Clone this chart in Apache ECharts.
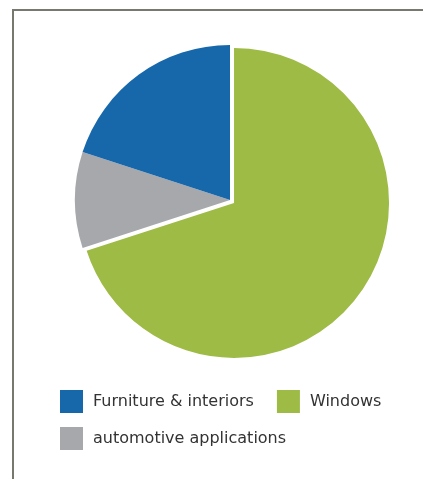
<!DOCTYPE html>
<html>
<head>
<meta charset="utf-8">
<style>
  html, body { margin: 0; padding: 0; background: #ffffff; }
  #chart { width: 423px; height: 479px; }
</style>
<script src="https://cdn.jsdelivr.net/npm/echarts@6/dist/echarts.min.js"></script>
</head>
<body>
<div id="chart"></div>
<script>
// Share of applications (percent)
const categories = ['Windows', 'automotive applications', 'Furniture & interiors'];
const values = [70, 10, 20];
const colors = ['#9dbb45', '#a7a8ac', '#1767ab'];
const legendRow1 = ['Furniture & interiors', 'Windows'];
const legendRow2 = ['automotive applications'];

const chart = echarts.init(document.getElementById('chart'), null, { renderer: 'canvas' });

const legendText = { color: '#333333', fontSize: 16, fontFamily: 'DejaVu Sans', padding: [0, 0, 0, 5] };

chart.setOption({
  animation: false,
  graphic: [
    { type: 'line', shape: { x1: 12, y1: 10, x2: 423, y2: 10 }, style: { stroke: '#77796f', lineWidth: 2 } },
    { type: 'line', shape: { x1: 13, y1: 10, x2: 13, y2: 479 }, style: { stroke: '#77796f', lineWidth: 2 } }
  ],
  legend: [
    {
      data: legendRow1, left: 60, top: 390, orient: 'horizontal', padding: 0,
      itemWidth: 23, itemHeight: 23, itemGap: 23, icon: 'rect',
      selectedMode: false, textStyle: legendText
    },
    {
      data: legendRow2, left: 60, top: 427, orient: 'horizontal', padding: 0,
      itemWidth: 23, itemHeight: 23, icon: 'rect',
      selectedMode: false, textStyle: legendText
    }
  ],
  series: [{
    type: 'pie',
    center: [230, 200],
    radius: 155,
    startAngle: 90,
    clockwise: true,
    selectedMode: 'multiple',
    selectedOffset: 5,
    label: { show: false },
    labelLine: { show: false },
    emphasis: { disabled: true },
    itemStyle: { borderWidth: 0 },
    data: categories.map((name, i) => ({
      name: name,
      value: values[i],
      selected: name === 'Windows',
      itemStyle: { color: colors[i] }
    }))
  }]
});
</script>
</body>
</html>
